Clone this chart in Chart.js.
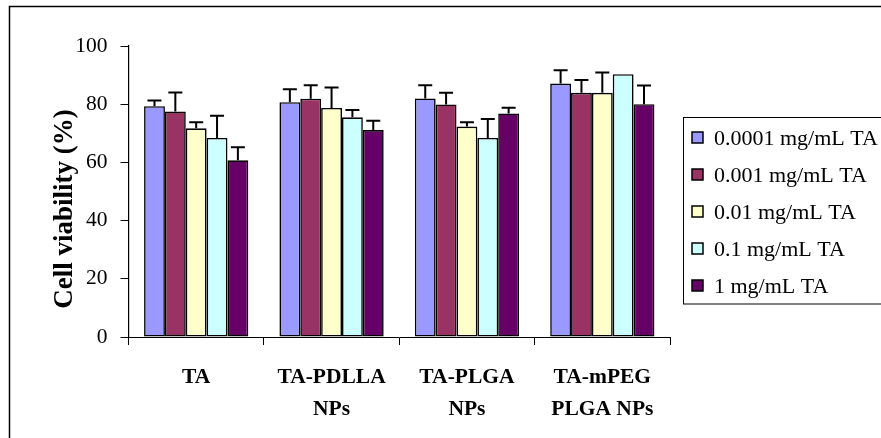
<!DOCTYPE html>
<html>
<head>
<meta charset="utf-8">
<script src="https://cdn.jsdelivr.net/npm/chart.js@4/dist/chart.umd.min.js"></script>
<style>
  html, body { margin: 0; padding: 0; background: #ffffff; }
  #wrap { width: 881px; height: 438px; position: relative; }
</style>
</head>
<body>
<div id="wrap"><canvas id="c" width="881" height="438"></canvas></div>
<script>
// Formulations on the x axis (two-line labels)
const categories = [['TA'], ['TA-PDLLA', 'NPs'], ['TA-PLGA', 'NPs'], ['TA-mPEG', 'PLGA NPs']];

// Concentration series
const seriesNames = ['0.0001 mg/mL TA', '0.001 mg/mL TA', '0.01 mg/mL TA', '0.1 mg/mL TA', '1 mg/mL TA'];

// Mean cell viability (%) per formulation
const conc00001 = [79.3, 80.7, 82.0, 87.1];
const conc0001  = [77.5, 81.9, 79.9, 83.9];
const conc001   = [71.7, 78.7, 72.3, 83.9];
const conc01    = [68.4, 75.5, 68.4, 90.3];
const conc1     = [60.7, 71.1, 76.8, 80.0];

// Standard deviations (upper error bars)
const sd00001 = [2.0, 4.4, 4.5, 4.6];
const sd0001  = [6.5, 4.6, 4.0, 4.4];
const sd001   = [2.1, 7.0, 1.5, 7.0];
const sd01    = [7.6, 2.5, 6.5, 0.0];
const sd1     = [4.5, 3.2, 2.0, 6.4];

// Y axis ticks and title
const yTicks = [0, 20, 40, 60, 80, 100];
const yTitle = 'Cell viability (%)';

const seriesValues = [conc00001, conc0001, conc001, conc01, conc1];
const seriesErrors = [sd00001, sd0001, sd001, sd01, sd1];
const seriesColors = ['#9999FF', '#993366', '#FFFFCC', '#CCFFFF', '#660066'];

const SERIF = '"Liberation Serif", "Times New Roman", serif';

// Upper error bars drawn from the value + SD through the y scale
const errorBars = {
  id: 'errorBars',
  afterDatasetsDraw(chart) {
    const ctx = chart.ctx;
    const y = chart.scales.y;
    ctx.save();
    ctx.strokeStyle = '#000';
    ctx.lineWidth = 2;
    chart.data.datasets.forEach((ds, di) => {
      const meta = chart.getDatasetMeta(di);
      meta.data.forEach((bar, i) => {
        const err = ds.errors[i];
        if (!err) return;
        const yTop = y.getPixelForValue(ds.data[i] + err);
        const yBase = y.getPixelForValue(ds.data[i]);
        ctx.beginPath();
        ctx.moveTo(bar.x, yBase);
        ctx.lineTo(bar.x, yTop);
        ctx.moveTo(bar.x - 7, yTop);
        ctx.lineTo(bar.x + 7, yTop);
        ctx.stroke();
      });
    });
    ctx.restore();
  }
};

// Outer frame, y-axis title and boxed legend
const frameAndLegend = {
  id: 'frameAndLegend',
  afterDraw(chart) {
    const ctx = chart.ctx;
    ctx.save();
    // frame
    ctx.strokeStyle = '#000';
    ctx.lineWidth = 1.5;
    ctx.beginPath();
    ctx.moveTo(9.5, 438);
    ctx.lineTo(9.5, 6.5);
    ctx.lineTo(881, 6.5);
    ctx.stroke();
    // y-axis title
    ctx.save();
    ctx.translate(65, 209);
    ctx.rotate(-Math.PI / 2);
    ctx.font = 'bold 27px ' + SERIF;
    ctx.textAlign = 'center';
    ctx.textBaseline = 'middle';
    ctx.fillStyle = '#000';
    ctx.fillText(yTitle, 0, 0);
    ctx.restore();
    // legend box
    ctx.lineWidth = 1;
    ctx.strokeRect(683.5, 117.5, 210, 186.5);
    // legend entries
    ctx.font = '22px ' + SERIF;
    ctx.textBaseline = 'middle';
    chart.data.datasets.forEach((ds, i) => {
      const cy = 138 + i * 37;
      ctx.fillStyle = ds.backgroundColor;
      ctx.fillRect(692, cy - 6, 11, 11);
      ctx.strokeStyle = '#000';
      ctx.lineWidth = 1.5;
      ctx.strokeRect(692, cy - 6, 11, 11);
      ctx.fillStyle = '#000';
      ctx.fillText(ds.label, 714, cy + 1);
    });
    ctx.restore();
  }
};

new Chart(document.getElementById('c'), {
  type: 'bar',
  data: {
    labels: categories,
    datasets: seriesNames.map((name, i) => ({
      label: name,
      data: seriesValues[i],
      errors: seriesErrors[i],
      backgroundColor: seriesColors[i],
      borderColor: '#000',
      borderWidth: 1.6,
      borderSkipped: false,
      categoryPercentage: 0.77,
      barPercentage: 1.0
    }))
  },
  options: {
    responsive: false,
    animation: false,
    devicePixelRatio: 1,
    layout: { padding: { left: 0, right: 211, top: 46, bottom: 0 } },
    plugins: {
      legend: { display: false },
      tooltip: { enabled: false }
    },
    scales: {
      x: {
        afterFit(scale) { scale.height = 101; },
        grid: {
          offset: true,
          drawOnChartArea: false,
          drawTicks: true,
          tickLength: 8,
          color: '#000'
        },
        border: { display: true, color: '#000', width: 1 },
        ticks: {
          color: '#000',
          padding: 16,
          maxRotation: 0,
          autoSkip: false,
          font: { family: SERIF, size: 21.5, weight: 'bold', lineHeight: 1.5 }
        }
      },
      y: {
        min: 0,
        max: 100,
        afterFit(scale) { scale.width = 128.5; },
        afterBuildTicks(scale) { scale.ticks = yTicks.map(v => ({ value: v })); },
        grid: {
          drawOnChartArea: false,
          drawTicks: true,
          tickLength: 8,
          color: '#000'
        },
        border: { display: true, color: '#000', width: 1.2 },
        ticks: {
          color: '#000',
          padding: 13,
          font: { family: SERIF, size: 21.5 }
        }
      }
    }
  },
  plugins: [errorBars, frameAndLegend]
});
</script>
</body>
</html>
